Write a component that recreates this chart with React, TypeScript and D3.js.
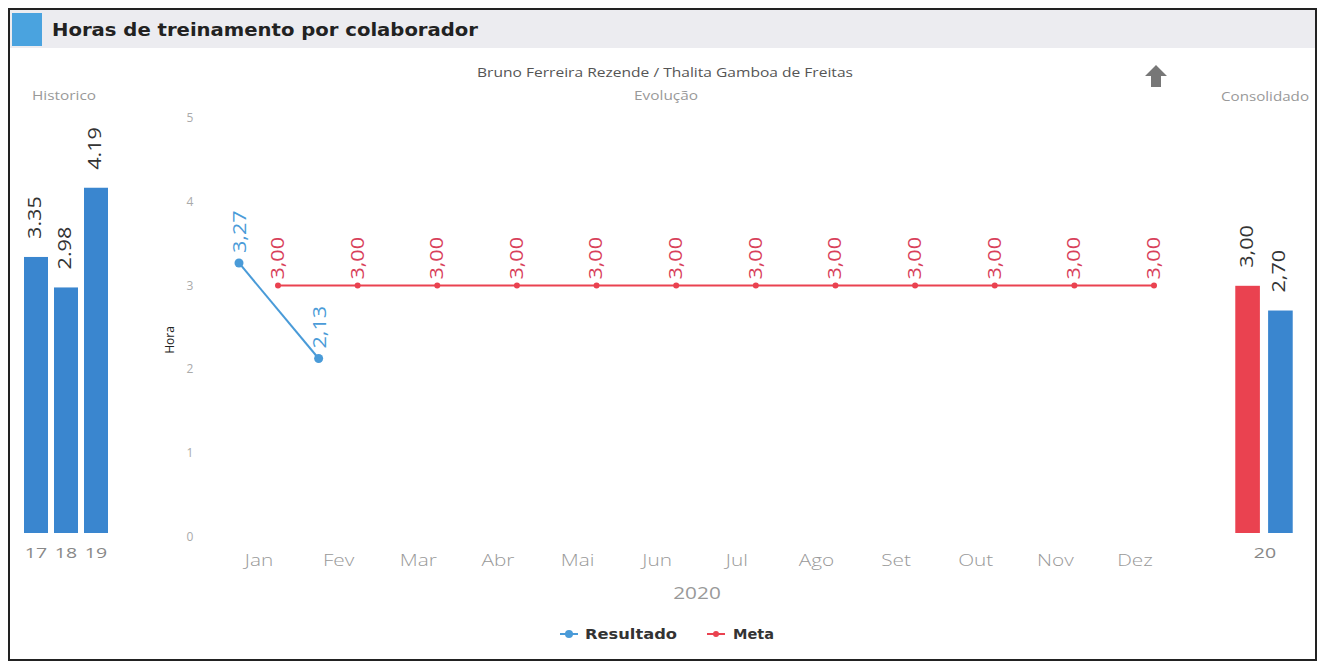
import React from "react";
import * as d3 from "d3";

const months = ["Jan", "Fev", "Mar", "Abr", "Mai", "Jun", "Jul", "Ago", "Set", "Out", "Nov", "Dez"];
const resultado: (number | null)[] = [3.27, 2.13, null, null, null, null, null, null, null, null, null, null];
const meta = [3, 3, 3, 3, 3, 3, 3, 3, 3, 3, 3, 3];
const histYears = ["17", "18", "19"];
const histValues = [3.35, 2.98, 4.19];
const consYear = "20";
const consMeta = 3.0;
const consResult = 2.7;
const yTicks = [0, 1, 2, 3, 4, 5];

const BLUE = "#3a86cf";
const LINE_BLUE = "#4a9bd8";
const RED = "#ea4250";
const RED_TXT = "#d8405a";
const FONT = "'Open Sans', 'DejaVu Sans', sans-serif";
const SX = 1.3;

export default function App() {
  const y = d3.scaleLinear().domain([0, 5]).range([537, 118]);
  const ys = d3.scaleLinear().domain([0, 5]).range([533, 121]);
  const x = d3.scalePoint<string>().domain(months).range([259, 1135]);
  const hx = d3.scaleBand<string>().domain(histYears).range([21, 111]).paddingInner(0.2).paddingOuter(0.1);
  const cx = d3.scaleBand<string>().domain(["m", "r"]).range([1232, 1296]).paddingInner(0.25).paddingOuter(0.1);

  const blueOff = -20;
  const redOff = 19;

  const resPts = resultado
    .map((v, i) => (v == null ? null : { x: x(months[i])! + blueOff, y: y(v), v }))
    .filter((p): p is { x: number; y: number; v: number } => p !== null);
  const metaPts = meta.map((v, i) => ({ x: x(months[i])! + redOff, y: y(v), v }));
  const line = d3.line<{ x: number; y: number }>().x((d) => d.x).y((d) => d.y);

  const fmt = (v: number) => v.toFixed(2).replace(".", ",");

  const vLabel = (px: number, py: number, txt: string, fill: string) => (
    <text
      transform={`translate(${px},${py}) rotate(-90) scale(1.08,0.92)`}
      dominantBaseline="middle"
      fontSize={20}
      fill={fill}
    >
      {txt}
    </text>
  );

  return (
    <svg
      width={1320}
      height={664}
      style={{ position: "absolute", left: 0, top: 0, display: "block", background: "#fff" }}
      fontFamily={FONT}
    >
      {/* frame */}
      <rect x={9} y={9} width={1307} height={651} fill="#fff" stroke="#222" strokeWidth={2} />
      <rect x={10} y={10} width={1305} height={38} fill="#ececf0" />
      <rect x={12} y={13} width={30} height={33} fill="#4aa3df" />
      <text
        x={52}
        y={36}
        fontFamily="'DejaVu Sans', sans-serif"
        fontWeight="bold"
        fontSize={17}
        fill="#222"
        textLength={426}
        lengthAdjust="spacingAndGlyphs"
      >
        Horas de treinamento por colaborador
      </text>

      {/* titles */}
      <text x={665} y={77} textAnchor="middle" fontSize={12} fill="#555" textLength={376} lengthAdjust="spacingAndGlyphs">
        Bruno Ferreira Rezende / Thalita Gamboa de Freitas
      </text>
      <text x={666} y={100} textAnchor="middle" fontSize={12} fill="#999" textLength={64} lengthAdjust="spacingAndGlyphs">
        Evolução
      </text>
      <text x={64} y={100} textAnchor="middle" fontSize={12} fill="#999" textLength={64} lengthAdjust="spacingAndGlyphs">
        Historico
      </text>
      <text x={1265} y={101} textAnchor="middle" fontSize={12} fill="#999" textLength={88} lengthAdjust="spacingAndGlyphs">
        Consolidado
      </text>

      {/* arrow icon */}
      <path d="M1156,65 L1167,76 L1161,76 L1161,87 L1151,87 L1151,76 L1145,76 Z" fill="#777" />

      {/* historic bars */}
      {histYears.map((yr, i) => {
        const bx = hx(yr)!;
        const bw = hx.bandwidth();
        const top = ys(histValues[i]);
        return (
          <g key={yr}>
            <rect x={bx} y={top} width={bw} height={ys(0) - top} fill={BLUE} />
            {vLabel(bx + bw / 2, top - 18, histValues[i].toFixed(2), "#333")}
            <text transform={`translate(${bx + bw / 2},558) scale(${SX},1)`} textAnchor="middle" fontSize={15} fill="#888">
              {yr}
            </text>
          </g>
        );
      })}

      {/* consolidated bars */}
      {[
        { k: "m", v: consMeta, c: RED },
        { k: "r", v: consResult, c: BLUE },
      ].map((b) => {
        const bx = cx(b.k)!;
        const bw = cx.bandwidth();
        const top = ys(b.v);
        return (
          <g key={b.k}>
            <rect x={bx} y={top} width={bw} height={ys(0) - top} fill={b.c} />
            {vLabel(bx + bw / 2, top - 18, fmt(b.v), "#333")}
          </g>
        );
      })}
      <text transform={`translate(1265,558) scale(${SX},1)`} textAnchor="middle" fontSize={15} fill="#888">
        {consYear}
      </text>

      {/* main y axis */}
      {yTicks.map((t) => (
        <text key={t} x={190} y={y(t) + 4} textAnchor="middle" fontSize={12} fill="#aaa">
          {t}
        </text>
      ))}
      <text transform={`translate(174,340) rotate(-90)`} textAnchor="middle" fontSize={12} fill="#222">
        Hora
      </text>

      {/* x axis */}
      {months.map((m) => (
        <text
          key={m}
          transform={`translate(${x(m)!},566) scale(${SX},1)`}
          textAnchor="middle"
          fontSize={16}
          fill="#999"
          fontWeight={300}
        >
          {m}
        </text>
      ))}
      <text transform={`translate(697,599) scale(${SX},1)`} textAnchor="middle" fontSize={16} fill="#999">
        2020
      </text>

      {/* meta line */}
      <path d={line(metaPts)!} fill="none" stroke={RED} strokeWidth={2} />
      {metaPts.map((p, i) => (
        <g key={i}>
          <circle cx={p.x} cy={p.y} r={3} fill={RED} />
          {vLabel(p.x + 1, p.y - 6, fmt(p.v), RED_TXT)}
        </g>
      ))}

      {/* resultado line */}
      <path d={line(resPts)!} fill="none" stroke={LINE_BLUE} strokeWidth={2} />
      {resPts.map((p, i) => (
        <g key={i}>
          <circle cx={p.x} cy={p.y} r={4.5} fill={LINE_BLUE} />
          {vLabel(p.x + 2, p.y - 10, fmt(p.v), LINE_BLUE)}
        </g>
      ))}

      {/* legend */}
      <g>
        <line x1={560} x2={578} y1={634} y2={634} stroke={LINE_BLUE} strokeWidth={2} />
        <circle cx={569} cy={634} r={4} fill={LINE_BLUE} />
        <text
          x={585}
          y={639}
          fontSize={14}
          fontWeight="bold"
          fill="#333"
          fontFamily="'DejaVu Sans', sans-serif"
          textLength={92}
          lengthAdjust="spacingAndGlyphs"
        >
          Resultado
        </text>
        <line x1={707} x2={725} y1={634} y2={634} stroke={RED} strokeWidth={2} />
        <circle cx={716} cy={634} r={3} fill={RED} />
        <text
          x={733}
          y={639}
          fontSize={14}
          fontWeight="bold"
          fill="#333"
          fontFamily="'DejaVu Sans', sans-serif"
          textLength={41}
          lengthAdjust="spacingAndGlyphs"
        >
          Meta
        </text>
      </g>
    </svg>
  );
}
